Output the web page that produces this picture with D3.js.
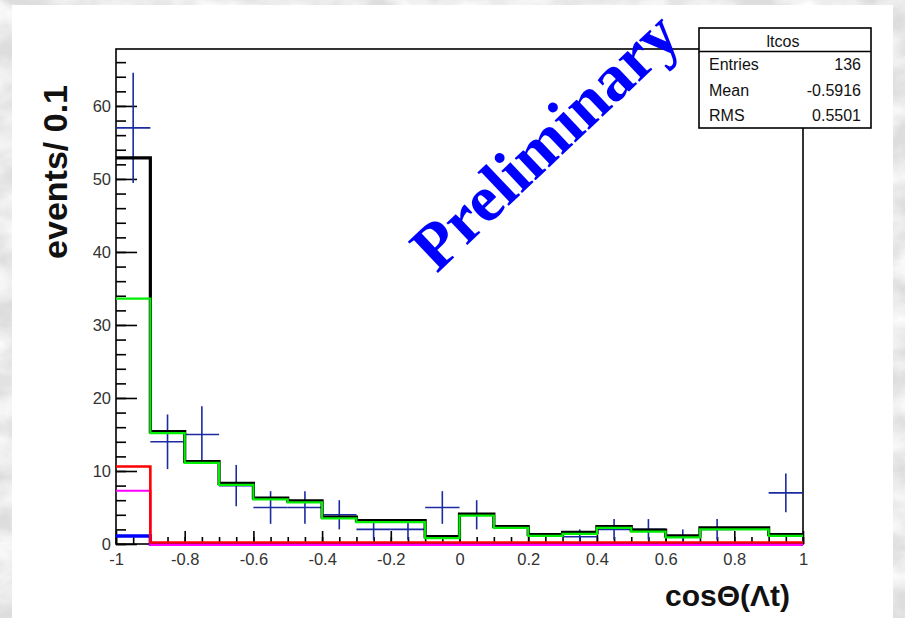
<!DOCTYPE html>
<html>
<head>
<meta charset="utf-8">
<script src="https://d3js.org/d3.v7.min.js"></script>
<style>
  body { margin: 0; background: #e2e2e2; }
  text { font-family: "Liberation Sans", Arial, sans-serif; }
</style>
</head>
<body>
<div id="my_dataviz"></div>
<script>

// bins of cos(theta), width 0.1
const binLow = [-1, -0.9, -0.8, -0.7, -0.6, -0.5, -0.4, -0.3, -0.2, -0.1,
                0, 0.1, 0.2, 0.3, 0.4, 0.5, 0.6, 0.7, 0.8, 0.9];
const binWidth = 0.1;

// data points (events per bin), errors are sqrt(n)
const dataCounts = [57, 14, 15, 8, 5, 5, 4, 2, 2, 5, 4, 0, 0, 1, 2, 2, 1, 2, 0, 7];

// fit components
const totalFit  = [52.9, 15.4, 11.3, 8.3, 6.3, 5.9, 3.7, 3.2, 3.2, 1.0, 4.1, 2.4, 1.3, 1.6, 2.4, 1.9, 1.1, 2.2, 2.2, 1.3];
const signalFit = [33.6, 15.2, 11.1, 8.1, 6.1, 5.7, 3.5, 3.0, 3.0, 0.8, 3.9, 2.2, 1.1, 1.4, 2.2, 1.7, 0.9, 2.0, 2.0, 1.1];
const bkgRed     = [10.4, 0, 0, 0, 0, 0, 0, 0, 0, 0, 0, 0, 0, 0, 0, 0, 0, 0, 0, 0];
const bkgMagenta = [7.4, 0, 0, 0, 0, 0, 0, 0, 0, 0, 0, 0, 0, 0, 0, 0, 0, 0, 0, 0];
const bkgBlue    = [1.1, 0, 0, 0, 0, 0, 0, 0, 0, 0, 0, 0, 0, 0, 0, 0, 0, 0, 0, 0];

const xTickValues = [-1, -0.8, -0.6, -0.4, -0.2, 0, 0.2, 0.4, 0.6, 0.8, 1];
const xTickLabels = ["-1", "-0.8", "-0.6", "-0.4", "-0.2", "0", "0.2", "0.4", "0.6", "0.8", "1"];
const yTickValues = [0, 10, 20, 30, 40, 50, 60];

const stats = [["Entries", "136"], ["Mean", "-0.5916"], ["RMS", "0.5501"]];

const W = 905, H = 618;
const frame = {left: 116, right: 803, top: 49, bottom: 544};

const svg = d3.select("#my_dataviz")
  .append("svg")
    .attr("width", W)
    .attr("height", H);

// marbled grey background
const defs = svg.append("defs");
const filt = defs.append("filter").attr("id", "marble").attr("x", 0).attr("y", 0).attr("width", 1).attr("height", 1);
filt.append("feTurbulence").attr("type", "fractalNoise").attr("baseFrequency", "0.018 0.03").attr("numOctaves", 4).attr("seed", 7);
filt.append("feColorMatrix").attr("type", "matrix")
  .attr("values", "0 0 0 0 1  0 0 0 0 1  0 0 0 0 1  0 0 0 -2.0 1.4");
svg.append("rect").attr("width", W).attr("height", H).attr("fill", "#dddddd");
svg.append("rect").attr("width", W).attr("height", H).attr("filter", "url(#marble)");

// white canvas
svg.append("rect")
  .attr("x", 12).attr("y", 5)
  .attr("width", 881).attr("height", H - 5)
  .attr("fill", "white");

const x = d3.scaleLinear().domain([-1, 1]).range([frame.left, frame.right]);
const y = d3.scaleLinear().domain([0, 67.8]).range([frame.bottom, frame.top]);

// frame
svg.append("rect")
  .attr("x", frame.left).attr("y", frame.top)
  .attr("width", frame.right - frame.left)
  .attr("height", frame.bottom - frame.top)
  .attr("fill", "none")
  .attr("stroke", "#000")
  .attr("stroke-width", 1.6);

// axes, ticks point inward
const yMinor = d3.range(0, 68, 2);
const xMinor = d3.range(-1, 1.0001, 0.05);

svg.append("g")
  .attr("transform", `translate(${frame.left},0)`)
  .call(d3.axisLeft(y).tickValues(yMinor).tickSize(-10).tickFormat(""))
  .call(g => g.select(".domain").remove())
  .selectAll("line").attr("stroke", "#000").attr("stroke-width", 1.6);

svg.append("g")
  .attr("transform", `translate(${frame.left},0)`)
  .call(d3.axisLeft(y).tickValues(yTickValues).tickSize(-21).tickPadding(5).tickFormat(d3.format("d")))
  .call(g => g.select(".domain").remove())
  .call(g => g.selectAll("line").attr("stroke", "#000").attr("stroke-width", 1.6))
  .call(g => g.selectAll("text")
    .attr("font-size", 16.5).attr("fill", "#333")
    .attr("font-family", "Liberation Sans, Arial, sans-serif"));

svg.append("g")
  .attr("transform", `translate(0,${frame.bottom})`)
  .call(d3.axisBottom(x).tickValues(xMinor).tickSize(-7).tickFormat(""))
  .call(g => g.select(".domain").remove())
  .selectAll("line").attr("stroke", "#000").attr("stroke-width", 1.6);

svg.append("g")
  .attr("transform", `translate(0,${frame.bottom})`)
  .call(d3.axisBottom(x).tickValues(xTickValues).tickSize(-13).tickPadding(9)
    .tickFormat((d, i) => xTickLabels[i]))
  .call(g => g.select(".domain").remove())
  .call(g => g.selectAll("line").attr("stroke", "#000").attr("stroke-width", 1.6))
  .call(g => g.selectAll("text")
    .attr("font-size", 16.5).attr("fill", "#333")
    .attr("font-family", "Liberation Sans, Arial, sans-serif"));

// data points with error bars
const pts = svg.append("g")
  .attr("stroke", "#1c2aa0")
  .attr("stroke-width", 1.6);

dataCounts.forEach((n, i) => {
  if (n === 0) return;
  const cx = x(binLow[i] + binWidth / 2);
  const e = Math.sqrt(n);
  pts.append("line")
    .attr("x1", x(binLow[i])).attr("x2", x(binLow[i] + binWidth))
    .attr("y1", y(n)).attr("y2", y(n));
  pts.append("line")
    .attr("x1", cx).attr("x2", cx)
    .attr("y1", y(n - e)).attr("y2", y(n + e));
});

// step histogram path
function stepPath(vals) {
  const p = d3.path();
  vals.forEach((v, i) => {
    const x0 = x(binLow[i]), x1 = x(binLow[i] + binWidth);
    if (i === 0) p.moveTo(x0, y(v)); else p.lineTo(x0, y(v));
    p.lineTo(x1, y(v));
  });
  return p.toString();
}

const curves = [
  {vals: totalFit,   color: "#000000", w: 3.2, dy: 0},
  {vals: signalFit,  color: "#00ee00", w: 2.2, dy: 0},
  {vals: bkgBlue,    color: "#0000ff", w: 3.4, dy: 0},
  {vals: bkgMagenta, color: "#ff00ff", w: 2.2, dy: 0.8},
  {vals: bkgRed,     color: "#ff0000", w: 2.6, dy: -1.5}
];

svg.append("g")
  .selectAll("path")
  .data(curves)
  .join("path")
    .attr("d", d => stepPath(d.vals))
    .attr("transform", d => `translate(0,${d.dy})`)
    .attr("fill", "none")
    .attr("stroke", d => d.color)
    .attr("stroke-width", d => d.w);

// axis titles
svg.append("text")
  .attr("transform", "translate(67,85) rotate(-90)")
  .attr("text-anchor", "end")
  .attr("font-weight", "bold")
  .attr("font-size", 34)
  .attr("fill", "#111")
  .text("events/ 0.1");

svg.append("text")
  .attr("x", 790).attr("y", 606)
  .attr("text-anchor", "end")
  .attr("font-weight", "bold")
  .attr("font-size", 30)
  .attr("fill", "#111")
  .text("cosΘ(Λt)");

// stats box
const box = {x: 699, y: 28, w: 172, h: 100, titleH: 23.5};
const sb = svg.append("g");
sb.append("rect")
  .attr("x", box.x).attr("y", box.y)
  .attr("width", box.w).attr("height", box.h)
  .attr("fill", "white").attr("stroke", "#000").attr("stroke-width", 1.6);
sb.append("line")
  .attr("x1", box.x).attr("x2", box.x + box.w)
  .attr("y1", box.y + box.titleH).attr("y2", box.y + box.titleH)
  .attr("stroke", "#000").attr("stroke-width", 1.4);
sb.append("text")
  .attr("x", box.x + box.w / 2 - 2).attr("y", box.y + 19)
  .attr("text-anchor", "middle")
  .attr("font-size", 16).attr("fill", "#111")
  .text("ltcos");
sb.selectAll("text.lab")
  .data(stats)
  .join("text")
    .attr("class", "lab")
    .attr("x", box.x + 10)
    .attr("y", (d, i) => box.y + 42 + i * 25.5)
    .attr("font-size", 16).attr("fill", "#111")
    .text(d => d[0]);
sb.selectAll("text.val")
  .data(stats)
  .join("text")
    .attr("class", "val")
    .attr("x", box.x + box.w - 10)
    .attr("y", (d, i) => box.y + 42 + i * 25.5)
    .attr("text-anchor", "end")
    .attr("font-size", 16).attr("fill", "#111")
    .text(d => d[1]);

// Preliminary stamp, on top
svg.append("text")
  .attr("transform", "translate(560,157) rotate(-43.5)")
  .attr("text-anchor", "middle")
  .style("font-family", "'Liberation Serif', 'Times New Roman', serif")
  .attr("font-weight", "bold")
  .attr("font-size", 66)
  .attr("fill", "#0000ff")
  .text("Preliminary");

</script>
</body>
</html>
